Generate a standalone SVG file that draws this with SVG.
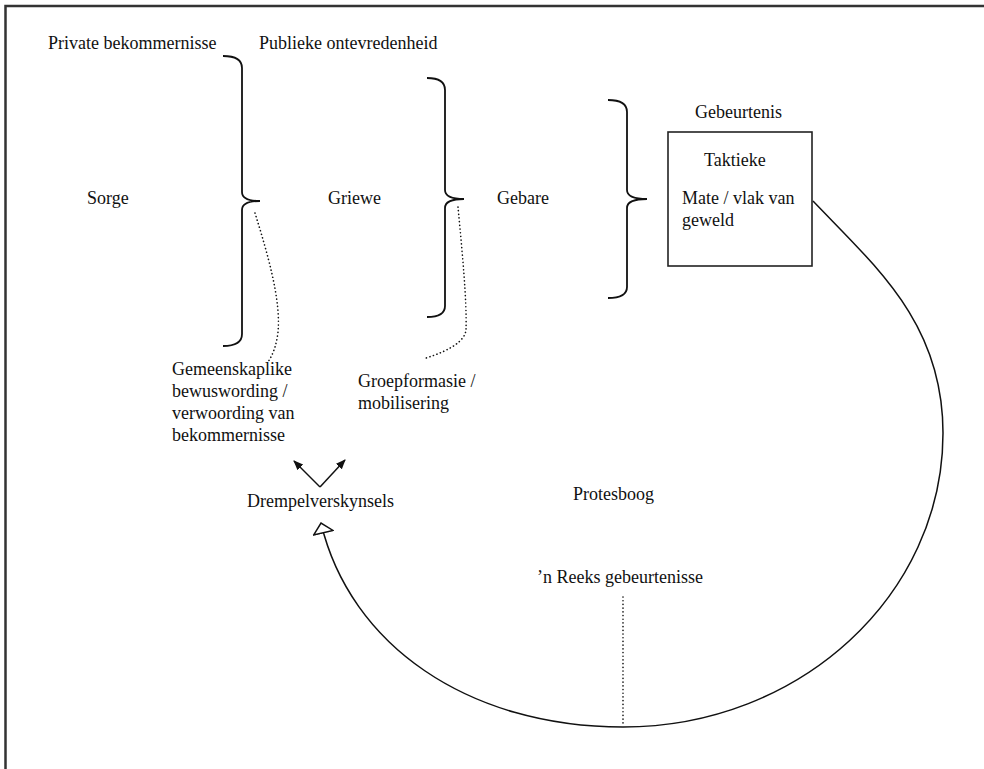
<svg xmlns="http://www.w3.org/2000/svg" width="984" height="769" viewBox="0 0 984 769">
  <style>
    text { font-family: "Liberation Serif", "Times New Roman", serif; font-size: 18px; fill: #111; }
    .brace { fill: none; stroke: #111; stroke-width: 1.8; }
    .line { fill: none; stroke: #111; stroke-width: 1.5; }
    .dot { fill: none; stroke: #111; stroke-width: 1.6; stroke-dasharray: 0.1 3.6; stroke-linecap: round; }
    .frame { fill: none; stroke: #333; stroke-width: 2.5; }
  </style>
  <defs>
    <marker id="arrow" viewBox="0 0 10 10" refX="9" refY="5" markerWidth="10" markerHeight="10" markerUnits="userSpaceOnUse" orient="auto">
      <path d="M0,1 L10,5 L0,9 Z" fill="#111"/>
    </marker>
    <marker id="hollow" viewBox="0 0 12 22" refX="11" refY="11" markerWidth="12" markerHeight="22" markerUnits="userSpaceOnUse" orient="auto">
      <path d="M1,1 L11,11 L1,21 Z" fill="#fff" stroke="#111" stroke-width="1.5"/>
    </marker>
  </defs>
  <rect width="984" height="769" fill="#fff"/>
  <g id="frame">
    <path class="frame" d="M5.5,769 L5.5,6 L984,6"/>
  </g>

  <g id="labels-top">
    <text x="48" y="49">Private bekommernisse</text>
    <text x="259" y="49">Publieke ontevredenheid</text>
  </g>

  <g id="node-sorge"><text x="87" y="204">Sorge</text></g>
  <g id="brace-1"><path class="brace" d="M223,56 Q242,56 242,68 L242,192 Q242,201 260,201 Q242,201 242,210 L242,334 Q242,346 223,346"/></g>

  <g id="node-griewe"><text x="328" y="204">Griewe</text></g>
  <g id="brace-2"><path class="brace" d="M427,78 Q445,78 445,90 L445,190 Q445,199 464,199 Q445,199 445,208 L445,306 Q445,317 427,317"/></g>

  <g id="node-gebare"><text x="497" y="204">Gebare</text></g>
  <g id="brace-3"><path class="brace" d="M608,100 Q627,100 627,112 L627,190 Q627,199 647,199 Q627,199 627,208 L627,287 Q627,298 608,298"/></g>

  <g id="node-gebeurtenis">
    <text x="695" y="118">Gebeurtenis</text>
    <rect x="668" y="132" width="144" height="134" fill="#fff" stroke="#222" stroke-width="1.6"/>
    <text x="704" y="166">Taktieke</text>
    <text x="682" y="204">Mate / vlak van</text>
    <text x="682" y="226">geweld</text>
  </g>

  <g id="node-gemeenskaplike">
    <text x="172" y="375">Gemeenskaplike</text>
    <text x="172" y="397">bewuswording /</text>
    <text x="172" y="419">verwoording van</text>
    <text x="172" y="441">bekommernisse</text>
  </g>

  <g id="node-groepformasie">
    <text x="358" y="387">Groepformasie /</text>
    <text x="358" y="409">mobilisering</text>
  </g>

  <g id="node-drempel"><text x="247" y="507">Drempelverskynsels</text></g>
  <g id="node-protesboog"><text x="573" y="500">Protesboog</text></g>
  <g id="node-reeks"><text x="537" y="583">’n Reeks gebeurtenisse</text></g>

  <g id="connectors">
    <path class="dot" d="M255,213 C268,255 281,300 278,332 Q276,350 268,362"/>
    <path class="dot" d="M458,207 C462,250 467,300 466,330 Q464,346 426,358"/>
    <path class="dot" d="M623,597 L623,726"/>
    <path class="line" d="M320,487 L294,461" marker-end="url(#arrow)"/>
    <path class="line" d="M320,487 L345,460" marker-end="url(#arrow)"/>
    <path class="line" d="M813,201 C876,267 943,323 943,433 C943,595 800,727 623,727 C468,727 350,645 321,523" marker-end="url(#hollow)"/>
  </g>
</svg>
